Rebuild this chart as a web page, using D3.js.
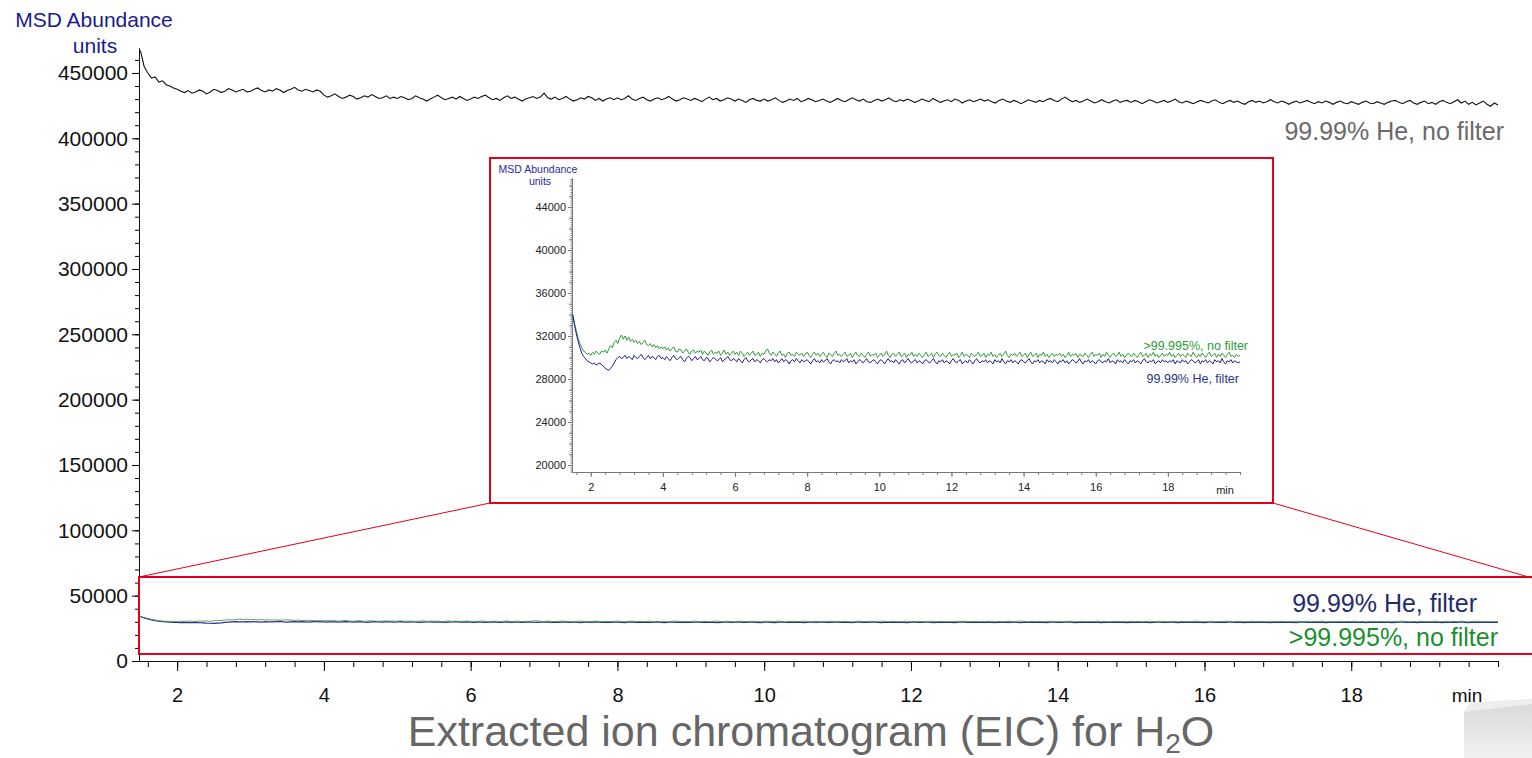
<!DOCTYPE html>
<html>
<head>
<meta charset="utf-8">
<script src="https://cdn.jsdelivr.net/npm/d3@7"></script>
<style>
  body { margin: 0; background: #fff; }
  svg { display: block; font-family: "Liberation Sans", Arial, sans-serif; }
</style>
</head>
<body>
<div id="chart"></div>
<script>
// Scan grid (minutes): one reading every 0.05 min from 1.5 to 20.0
const scanStart = 1.5;
const scanStep = 0.05;

// 99.99% He, no filter (thousands of counts)
const heNoFilter = [
  467, 455, 450, 446, 447, 443, 444, 441, 440, 438.5,
  437.5, 436, 435, 436.5, 434.5, 435.5, 437, 436, 434, 435.5, 437.5, 436.5, 435, 436, 438, 437, 435.5, 436.5, 437.5, 435.5,
  436, 437.5, 438.5, 436.5, 435.5, 437, 436, 438, 437, 435, 436.5, 437.5, 439, 437, 436, 437.5, 436.5, 435.5, 437, 436,
  433, 431.5, 432.5, 434, 432, 430.5, 431.5, 433, 432, 430, 431, 432.5, 431.5, 433.5, 432, 430.5, 431, 432.5, 430.5, 431.5,
  430.5, 432, 431, 429.5, 430.5, 432.5, 431, 430, 428.5, 430, 431.5, 433, 431, 429.5, 430.5, 431.5, 430, 432, 430.5, 429,
  430, 431.5, 430.5, 432, 433, 431, 429.5, 430.5, 429, 431, 432.5, 430.5, 431.5, 430, 428.5, 430, 431, 432, 430.5, 431.5,
  434.5, 431, 430, 431.5, 429.5, 430.5, 432, 430, 428.5, 429.5, 431, 430, 432, 431, 429, 430.5, 428.5, 430, 431, 429.5,
  431, 429.5, 430.5, 432.5, 430, 429, 430.5, 431.5, 429.5, 428.5, 430, 431, 429.5, 430.5, 432, 430, 428.5, 429.5, 431, 430,
  429, 430.5, 429.5, 428, 430, 431.5, 429.5, 430.5, 428.5, 429.5, 431, 430, 428.5, 430, 429, 427.5, 429.5, 430.5, 429, 428.5,
  430, 428.5, 429.5, 431, 429, 427.5, 428.5, 430, 429, 430.5, 428, 429, 430.5, 429.5, 428, 429, 430, 428.5, 427.5, 429,
  430.5, 429, 428, 429.5, 431, 429.5, 428.5, 430, 428, 427.5, 429, 430, 428.5, 429.5, 431, 429, 428, 429.5, 428.5, 430,
  429, 427.5, 428.5, 430, 429, 428, 430.5, 429, 427.5, 428.5, 429.5, 428, 430, 429, 427, 428.5, 429.5, 428, 429, 430,
  428.5, 429.5, 428, 427, 429, 430, 428.5, 427.5, 429, 428, 426.5, 428, 429.5, 428.5, 427.5, 429, 428, 429.5, 430.5, 429,
  428, 430, 431.5, 429.5, 428, 429, 427.5, 428.5, 430, 428.5, 427, 428, 429.5, 428, 427, 428.5, 429.5, 427.5, 428.5, 429,
  427.5, 429, 428, 426.5, 428, 429.5, 428.5, 427, 428, 429, 427.5, 428.5, 430, 428, 427, 428.5, 427.5, 426.5, 428, 429,
  428, 427, 428.5, 429.5, 427.5, 426.5, 428, 429, 427.5, 428.5, 427, 426, 428, 429, 427.5, 428.5, 427, 428, 429.5, 428,
  427, 428.5, 427.5, 426, 427.5, 428.5, 427, 428, 429, 427.5, 426.5, 428, 427, 428.5, 427.5, 426, 427.5, 428.5, 427, 426.5,
  428, 427, 426, 427.5, 428.5, 427, 426.5, 428, 427, 426, 427.5, 428.5, 429, 427.5, 426.5, 428, 429, 427, 426, 427.5,
  428.5, 426.5, 427.5, 426, 428, 429, 427.5, 426.5, 428, 429.5, 427, 428.5, 426, 427.5, 425.5, 427, 428.5, 426, 424.5, 427,
  425.5
];

// 99.99% He, filter (hundreds of counts)
const heFilter = [
  340, 330, 322, 315, 309, 304, 301, 299, 297, 296,
  295, 294, 295, 293, 294, 295, 293, 292, 290, 289, 288, 290, 292, 295, 298, 300, 301, 299, 300, 302,
  299, 301, 300, 298, 302, 300, 299, 301, 303, 300, 298, 300, 302, 299, 301, 300, 298, 301, 302, 299,
  300, 298, 301, 299, 297, 300, 302, 299, 298, 300, 301, 298, 296, 299, 301, 300, 297, 299, 301, 298,
  299, 301, 298, 297, 300, 299, 296, 298, 300, 299, 297, 298, 300, 296, 298, 299, 301, 298, 297, 299,
  298, 296, 299, 297, 295, 298, 300, 297, 296, 298, 299, 296, 298, 297, 295, 298, 299, 297, 296, 298,
  297, 299, 296, 298, 295, 297, 299, 296, 298, 297, 294, 297, 298, 296, 299, 297, 295, 298, 296, 297,
  298, 296, 294, 297, 299, 296, 297, 295, 298, 296, 297, 299, 296, 294, 297, 298, 296, 297, 295, 298,
  296, 297, 299, 295, 297, 296, 298, 294, 296, 298, 297, 295, 297, 299, 296, 295, 297, 298, 296, 294,
  297, 298, 296, 294, 297, 299, 296, 297, 295, 298, 296, 294, 297, 298, 295, 297, 299, 296, 295, 297,
  298, 295, 297, 296, 294, 297, 298, 296, 295, 297, 299, 296, 294, 297, 296, 298, 295, 297, 296, 294,
  297, 299, 296, 295, 297, 298, 294, 296, 297, 295, 298, 296, 294, 297, 299, 296, 295, 297, 296, 298,
  295, 297, 296, 294, 298, 296, 297, 295, 299, 296, 294, 297, 296, 298, 295, 297, 296, 294, 297, 298,
  296, 295, 297, 299, 296, 294, 297, 296, 298, 295, 297, 296, 294, 298, 296, 297, 295, 298, 296, 294,
  297, 296, 298, 295, 297, 294, 296, 298, 297, 295, 296, 299, 296, 294, 297, 296, 298, 295, 297, 296,
  294, 297, 298, 296, 295, 297, 296, 299, 295, 297, 296, 294, 298, 296, 297, 295, 298, 296, 294, 297,
  296, 298, 295, 297, 296, 294, 297, 299, 296, 295, 297, 296, 298, 294, 296, 297, 295, 298, 296, 297,
  295, 297, 296, 298, 294, 297, 296, 295, 298, 296, 297, 294, 296, 298, 297, 295, 296, 298, 294, 297,
  296, 298, 295, 297, 296, 294, 298, 296, 297, 295, 299, 296, 294, 297, 296, 298, 295, 297, 296, 295,
  296
];

// >99.995% He, no filter (hundreds of counts)
const pureNoFilter = [
  340, 332, 325, 318, 313, 309, 306, 305, 303, 304,
  302, 305, 303, 306, 304, 303, 306, 305, 307, 304, 308, 311, 309, 314, 316, 313, 318, 321, 317, 320,
  316, 319, 315, 317, 314, 316, 313, 315, 312, 314, 316, 312, 311, 313, 310, 312, 309, 311, 308, 310,
  308, 310, 307, 309, 306, 308, 310, 306, 305, 308, 307, 304, 306, 308, 305, 303, 306, 307, 304, 306,
  305, 307, 303, 306, 304, 302, 305, 307, 303, 305, 304, 306, 302, 304, 307, 303, 305, 302, 304, 306,
  303, 305, 302, 306, 304, 301, 303, 305, 302, 304, 306, 302, 303, 305, 301, 304, 303, 306, 308, 304,
  302, 305, 303, 301, 304, 306, 302, 303, 300, 304, 305, 302, 303, 301, 305, 303, 302, 304, 301, 303,
  305, 302, 300, 303, 305, 302, 304, 301, 303, 305, 302, 300, 304, 303, 301, 304, 306, 302, 303, 301,
  303, 305, 301, 302, 304, 300, 303, 305, 302, 301, 304, 302, 300, 303, 305, 301, 303, 302, 304, 300,
  302, 304, 301, 303, 306, 302, 300, 303, 304, 301, 303, 305, 301, 302, 304, 300, 303, 302, 305, 301,
  303, 301, 304, 302, 300, 303, 305, 301, 302, 304, 300, 303, 305, 302, 301, 304, 302, 300, 303, 305,
  301, 303, 302, 304, 300, 302, 305, 301, 303, 302, 300, 304, 302, 301, 303, 305, 301, 302, 304, 300,
  303, 302, 305, 301, 303, 300, 302, 304, 301, 303, 306, 302, 300, 303, 302, 304, 301, 303, 305, 301,
  302, 304, 300, 303, 305, 301, 302, 304, 300, 303, 302, 305, 301, 303, 300, 302, 304, 301, 303, 302,
  304, 301, 303, 300, 302, 305, 301, 303, 302, 304, 300, 303, 302, 301, 304, 302, 300, 303, 305, 301,
  303, 302, 304, 300, 303, 301, 305, 302, 300, 303, 304, 301, 302, 305, 301, 303, 300, 302, 304, 302,
  301, 304, 302, 300, 303, 305, 301, 302, 304, 300, 303, 302, 305, 301, 303, 300, 302, 304, 301, 303,
  302, 305, 301, 303, 300, 302, 304, 301, 303, 302, 300, 304, 302, 301, 305, 302, 300, 303, 301, 304,
  302, 300, 303, 305, 301, 302, 304, 300, 303, 301, 304, 302, 300, 303, 305, 301, 302, 300, 303, 301,
  302
];

// Tick values
const mainYTicks = [0, 50000, 100000, 150000, 200000, 250000, 300000, 350000, 400000, 450000];
const mainXTicks = [2, 4, 6, 8, 10, 12, 14, 16, 18];
const insetYTicks = [20000, 24000, 28000, 32000, 36000, 40000, 44000];
const insetXTicks = [2, 4, 6, 8, 10, 12, 14, 16, 18];

const width = 1532;
const height = 758;
const red = '#e2001a';

const toSeries = (values, k) => values.map((v, i) => ({ t: scanStart + i * scanStep, v: v * k }));
const blackData = toSeries(heNoFilter, 1000);
const blueData = toSeries(heFilter, 100);
const greenData = toSeries(pureNoFilter, 100);

const svg = d3.select('#chart')
    .append('svg')
    .attr('width', width)
    .attr('height', height);

// Main scales
const xMain = d3.scaleLinear().domain([1.48, 20.0]).range([139, 1498]);
const yMain = d3.scaleLinear().domain([0, 469100]).range([661, 48]);

// Main axes
const yAxisMinor = d3.axisLeft(yMain)
    .tickValues(d3.range(0, 469000, 10000))
    .tickSize(4).tickSizeOuter(0).tickFormat('');
const yAxis = d3.axisLeft(yMain)
    .tickValues(mainYTicks)
    .tickSize(7).tickSizeOuter(0).tickPadding(4)
    .tickFormat(d3.format('d'));

svg.append('g').attr('transform', 'translate(139,0)').call(yAxisMinor);
svg.append('g')
    .attr('class', 'y-axis')
    .attr('transform', 'translate(139,0)')
    .call(yAxis)
    .selectAll('text')
    .style('font-size', '21px')
    .attr('fill', '#111');

const xAxisMinor = d3.axisBottom(xMain)
    .tickValues(d3.range(1.6, 20.01, 0.4))
    .tickSize(6).tickSizeOuter(0).tickFormat('');
const xAxis = d3.axisBottom(xMain)
    .tickValues(mainXTicks)
    .tickSize(10).tickSizeOuter(0).tickPadding(17)
    .tickFormat(d3.format('d'));

svg.append('g').attr('transform', 'translate(0,661)').call(xAxisMinor);
svg.append('g')
    .attr('class', 'x-axis')
    .attr('transform', 'translate(0,661)')
    .call(xAxis)
    .selectAll('text')
    .style('font-size', '20px')
    .attr('fill', '#111');

svg.selectAll('.domain').attr('stroke', '#111');

svg.append('text')
    .attr('x', 1467).attr('y', 702)
    .attr('text-anchor', 'middle')
    .style('font-size', '19px')
    .attr('fill', '#111')
    .text('min');

// Y axis title
const yTitle = svg.append('text')
    .attr('text-anchor', 'middle')
    .attr('fill', '#1b1b8e')
    .style('font-size', '21px');
yTitle.append('tspan').attr('x', 94).attr('y', 27).text('MSD Abundance');
yTitle.append('tspan').attr('x', 95).attr('y', 53).text('units');

// Main lines
const mainLine = d3.line()
    .x(d => xMain(d.t))
    .y(d => yMain(d.v));

svg.append('path').datum(blackData)
    .attr('d', mainLine)
    .attr('fill', 'none')
    .attr('stroke', '#111')
    .attr('stroke-width', 1.1);

svg.append('path').datum(blueData)
    .attr('d', mainLine)
    .attr('fill', 'none')
    .attr('stroke', '#2c2c9c')
    .attr('stroke-width', 1.2);

svg.append('path').datum(greenData)
    .attr('d', mainLine)
    .attr('fill', 'none')
    .attr('stroke', '#3a9a3f')
    .attr('stroke-width', 1)
    .attr('opacity', 0.85);

// Main labels
svg.append('text')
    .attr('x', 1504).attr('y', 140)
    .attr('text-anchor', 'end')
    .style('font-size', '25px')
    .attr('fill', '#6a6a6a')
    .text('99.99% He, no filter');

svg.append('text')
    .attr('x', 1477).attr('y', 612)
    .attr('text-anchor', 'end')
    .style('font-size', '25px')
    .attr('fill', '#1f2d6e')
    .text('99.99% He, filter');

svg.append('text')
    .attr('x', 1498).attr('y', 646)
    .attr('text-anchor', 'end')
    .style('font-size', '25px')
    .attr('fill', '#1a8f2e')
    .text('>99.995%, no filter');

// Zoom box and connectors
svg.append('rect')
    .attr('x', 139).attr('y', 577)
    .attr('width', 1400).attr('height', 77)
    .attr('fill', 'none')
    .attr('stroke', red)
    .attr('stroke-width', 2);

svg.append('line')
    .attr('x1', 139).attr('y1', 577).attr('x2', 490).attr('y2', 503)
    .attr('stroke', red).attr('stroke-width', 1);
svg.append('line')
    .attr('x1', 1532).attr('y1', 578).attr('x2', 1273).attr('y2', 503)
    .attr('stroke', red).attr('stroke-width', 1);

// Inset
const inset = svg.append('g').attr('class', 'inset');

inset.append('rect')
    .attr('x', 490).attr('y', 158)
    .attr('width', 783).attr('height', 345)
    .attr('fill', '#fff')
    .attr('stroke', red)
    .attr('stroke-width', 2);

const xInset = d3.scaleLinear().domain([1.48, 20.0]).range([572, 1240]);
const yInset = d3.scaleLinear().domain([19350, 46700]).range([472, 178]);

inset.append('g').attr('transform', 'translate(572,0)')
    .call(d3.axisLeft(yInset).tickValues(d3.range(19400, 46700, 200))
        .tickSize(1.5).tickSizeOuter(0).tickFormat(''));
inset.append('g').attr('transform', 'translate(572,0)')
    .call(d3.axisLeft(yInset).tickValues(d3.range(20000, 46700, 1000))
        .tickSize(3).tickSizeOuter(0).tickFormat(''));
inset.append('g')
    .attr('transform', 'translate(572,0)')
    .call(d3.axisLeft(yInset).tickValues(insetYTicks)
        .tickSize(4).tickSizeOuter(0).tickPadding(2)
        .tickFormat(d3.format('d')))
    .selectAll('text')
    .style('font-size', '11px')
    .attr('fill', '#222');

inset.append('g').attr('transform', 'translate(0,472)')
    .call(d3.axisBottom(xInset).tickValues(d3.range(1.6, 20.01, 0.4))
        .tickSize(3).tickSizeOuter(0).tickFormat(''));
inset.append('g')
    .attr('transform', 'translate(0,472)')
    .call(d3.axisBottom(xInset).tickValues(insetXTicks)
        .tickSize(5).tickSizeOuter(0).tickPadding(6)
        .tickFormat(d3.format('d')))
    .selectAll('text')
    .style('font-size', '11px')
    .attr('fill', '#222');

inset.selectAll('.domain, .tick line').attr('stroke', '#777');

inset.append('text')
    .attr('x', 1225).attr('y', 494)
    .attr('text-anchor', 'middle')
    .style('font-size', '11px')
    .attr('fill', '#222')
    .text('min');

const insetTitle = inset.append('text')
    .attr('text-anchor', 'middle')
    .attr('fill', '#2a2a9a')
    .style('font-size', '10.5px');
insetTitle.append('tspan').attr('x', 538).attr('y', 173).text('MSD Abundance');
insetTitle.append('tspan').attr('x', 540).attr('y', 185).text('units');

const insetLine = d3.line()
    .x(d => xInset(d.t))
    .y(d => yInset(d.v));

inset.append('path').datum(greenData)
    .attr('d', insetLine)
    .attr('fill', 'none')
    .attr('stroke', '#2e9a3c')
    .attr('stroke-width', 1);

inset.append('path').datum(blueData)
    .attr('d', insetLine)
    .attr('fill', 'none')
    .attr('stroke', '#1f1f92')
    .attr('stroke-width', 1);

inset.append('text')
    .attr('x', 1248).attr('y', 350)
    .attr('text-anchor', 'end')
    .style('font-size', '12.5px')
    .attr('fill', '#2e9a3c')
    .text('>99.995%, no filter');

inset.append('text')
    .attr('x', 1239).attr('y', 383)
    .attr('text-anchor', 'end')
    .style('font-size', '12.5px')
    .attr('fill', '#2a3585')
    .text('99.99% He, filter');

// Caption
const caption = svg.append('text')
    .attr('x', 811).attr('y', 746)
    .attr('text-anchor', 'middle')
    .attr('fill', '#666')
    .style('font-size', '43px');
caption.append('tspan').text('Extracted ion chromatogram (EIC) for H');
caption.append('tspan').attr('dy', 7).style('font-size', '28px').text('2');
caption.append('tspan').attr('dy', -7).text('O');

// Slide corner decoration
const grad = svg.append('defs').append('linearGradient')
    .attr('id', 'cornerGrad').attr('x1', 0).attr('y1', 0).attr('x2', 0).attr('y2', 1);
grad.append('stop').attr('offset', '0%').attr('stop-color', '#d8d8d8');
grad.append('stop').attr('offset', '100%').attr('stop-color', '#f2f2f2');
svg.append('path')
    .attr('d', 'M1470,703 L1532,699 L1532,758 L1464,758 L1464,712 Z')
    .attr('fill', 'url(#cornerGrad)');
svg.append('path')
    .attr('d', 'M1464,712 L1470,703 L1532,699 L1532,704 Z')
    .attr('fill', '#eeeeee');
</script>
</body>
</html>
